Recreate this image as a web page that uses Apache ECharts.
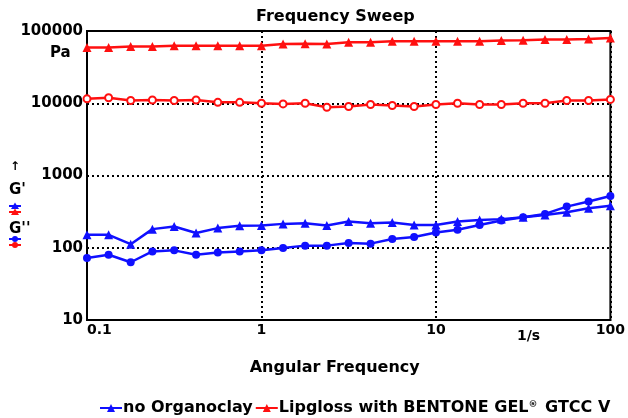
<!DOCTYPE html>
<html>
<head>
<meta charset="utf-8">
<script src="https://cdn.jsdelivr.net/npm/echarts@6/dist/echarts.min.js"></script>
<style>
html, body { margin: 0; padding: 0; background: #fff; }
#chart { width: 628px; height: 418px; }
</style>
</head>
<body>
<div id="chart"></div>
<script>
// angular frequency, 1/s (8 points per decade)
var freq = [0.1, 0.133, 0.178, 0.237, 0.316, 0.422, 0.562, 0.75,
            1, 1.33, 1.78, 2.37, 3.16, 4.22, 5.62, 7.5,
            10, 13.3, 17.8, 23.7, 31.6, 42.2, 56.2, 75, 100];

// no Organoclay (blue)
var noClayGp  = [151, 151, 112, 181, 197, 160, 187, 201, 203, 214, 219, 203, 231,
                 219, 223, 207, 207, 231, 243, 249, 265, 285, 310, 353, 380];
var noClayGpp = [72, 80, 63, 89, 92, 80, 86, 89, 92, 99, 107, 107, 116,
                 114, 132, 141, 163, 177, 207, 238, 265, 294, 371, 436, 521];

// Lipgloss with BENTONE GEL GTCC V (red)
var bentGp  = [59200, 59200, 61200, 61200, 62500, 62500, 62500, 62500, 62500, 66100, 66700, 66100, 69600,
               69600, 71900, 71900, 71900, 71900, 71900, 73600, 74300, 76000, 76000, 77700, 80300];
var bentGpp = [11500, 11900, 10900, 11100, 10900, 11100, 10300, 10300, 10000, 9800, 10000, 8800, 9000,
               9600, 9300, 9000, 9600, 10000, 9600, 9600, 10000, 10000, 10900, 10900, 11300];

var xTicks = [0.1, 1, 10, 100];
var yTicks = [10, 100, 1000, 10000, 100000];

var nameNo = 'no Organoclay';
var nameBent = 'Lipgloss with BENTONE GEL\u00AE GTCC V';
var BLUE = '#1010ff';
var RED = '#ff1010';
var FONT = 'DejaVu Sans';

function pairs(vals) {
    var out = [];
    for (var i = 0; i < freq.length; i++) {
        out.push([freq[i], vals[i]]);
    }
    return out;
}

function fmt(v) {
    return String(+Number(v).toPrecision(3));
}

// small marker icons of the G' / G'' key on the left
function miniIcon(y, color, kind) {
    var mark;
    if (kind === 'tri') {
        mark = { type: 'polygon', shape: { points: [[15, y - 3.5], [11, y + 3], [19, y + 3]] }, style: { fill: color } };
    } else {
        mark = { type: 'circle', shape: { cx: 15, cy: y, r: 3 }, style: { fill: color } };
    }
    return {
        type: 'group',
        children: [
            { type: 'line', shape: { x1: 9, y1: y, x2: 21, y2: y }, style: { stroke: color, lineWidth: 2 } },
            mark
        ]
    };
}

var chart = echarts.init(document.getElementById('chart'));

chart.setOption({
    animation: false,
    title: {
        text: 'Frequency Sweep',
        left: 256,
        top: 9,
        padding: 0,
        textStyle: { fontFamily: FONT, fontWeight: 'bold', fontSize: 16, color: '#000' }
    },
    legend: {
        data: [nameNo, nameBent],
        left: 99,
        top: 400,
        itemWidth: 22,
        itemHeight: 10,
        itemGap: 2,
        padding: 0,
        formatter: function (name) {
            // raise the registered mark like the original
            return name.split('\u00AE').join('{sup|\u00AE}');
        },
        textStyle: {
            fontFamily: FONT, fontWeight: 'bold', fontSize: 16, color: '#000', padding: [0, 0, 0, -4],
            rich: {
                sup: { fontFamily: FONT, fontWeight: 'bold', fontSize: 9, color: '#000', verticalAlign: 'top', padding: [0, 2, 6, 0] }
            }
        }
    },
    grid: {
        left: 87, right: 17, top: 31, bottom: 98,
        show: true,
        borderColor: '#000',
        borderWidth: 2,
        backgroundColor: '#fff'
    },
    xAxis: {
        type: 'log',
        logBase: 10,
        min: 0.1,
        max: 100,
        name: 'Angular Frequency',
        nameLocation: 'middle',
        nameGap: 40,
        nameTextStyle: { fontFamily: FONT, fontWeight: 'bold', fontSize: 16, color: '#000', padding: [0, 28, 0, 0] },
        axisLine: { lineStyle: { color: '#000', width: 2 } },
        axisTick: { show: false },
        axisLabel: {
            margin: 3,
            fontFamily: FONT, fontWeight: 'bold', fontSize: 14, color: '#000',
            alignMinLabel: 'left',
            formatter: fmt
        },
        splitLine: { show: true, lineStyle: { color: '#000', width: 2, type: [2, 3] } },
        minorTick: { show: false }
    },
    yAxis: {
        type: 'log',
        logBase: 10,
        min: 10,
        max: 100000,
        axisLine: { show: true, lineStyle: { color: '#000', width: 2 } },
        axisTick: { show: false },
        axisLabel: {
            margin: 4,
            fontFamily: FONT, fontWeight: 'bold', fontSize: 15, color: '#000',
            formatter: fmt
        },
        splitLine: { show: true, lineStyle: { color: '#000', width: 2, type: [2, 3] } }
    },
    series: [
        {
            name: nameNo, type: 'line', data: pairs(noClayGp),
            symbol: 'triangle', symbolSize: 9,
            lineStyle: { color: BLUE, width: 2.5 }, itemStyle: { color: BLUE }
        },
        {
            name: nameNo, type: 'line', data: pairs(noClayGpp),
            symbol: 'circle', symbolSize: 8,
            lineStyle: { color: BLUE, width: 2.5 }, itemStyle: { color: BLUE }
        },
        {
            name: nameBent, type: 'line', data: pairs(bentGp),
            symbol: 'triangle', symbolSize: 9,
            lineStyle: { color: RED, width: 2.5 }, itemStyle: { color: RED }
        },
        {
            name: nameBent, type: 'line', data: pairs(bentGpp),
            symbol: 'emptyCircle', symbolSize: 7,
            lineStyle: { color: RED, width: 2.5 }, itemStyle: { color: RED, borderWidth: 2 }
        }
    ],
    graphic: [
        { type: 'text', left: 50, top: 46, style: { text: 'Pa', font: 'bold 15px "DejaVu Sans"', fill: '#000' } },
        { type: 'text', left: 517, top: 329, style: { text: '1/s', font: 'bold 14px "DejaVu Sans"', fill: '#000' } },
        { type: 'text', left: 10, top: 161, style: { text: '\u2191', font: 'bold 12px "DejaVu Sans"', fill: '#000' } },
        { type: 'text', left: 9, top: 183, style: { text: "G'", font: 'bold 15px "DejaVu Sans"', fill: '#000' } },
        miniIcon(206, BLUE, 'tri'),
        miniIcon(212, RED, 'tri'),
        { type: 'text', left: 9, top: 222, style: { text: "G''", font: 'bold 15px "DejaVu Sans"', fill: '#000' } },
        miniIcon(239, BLUE, 'circ'),
        miniIcon(245, RED, 'circ')
    ]
});
</script>
</body>
</html>
